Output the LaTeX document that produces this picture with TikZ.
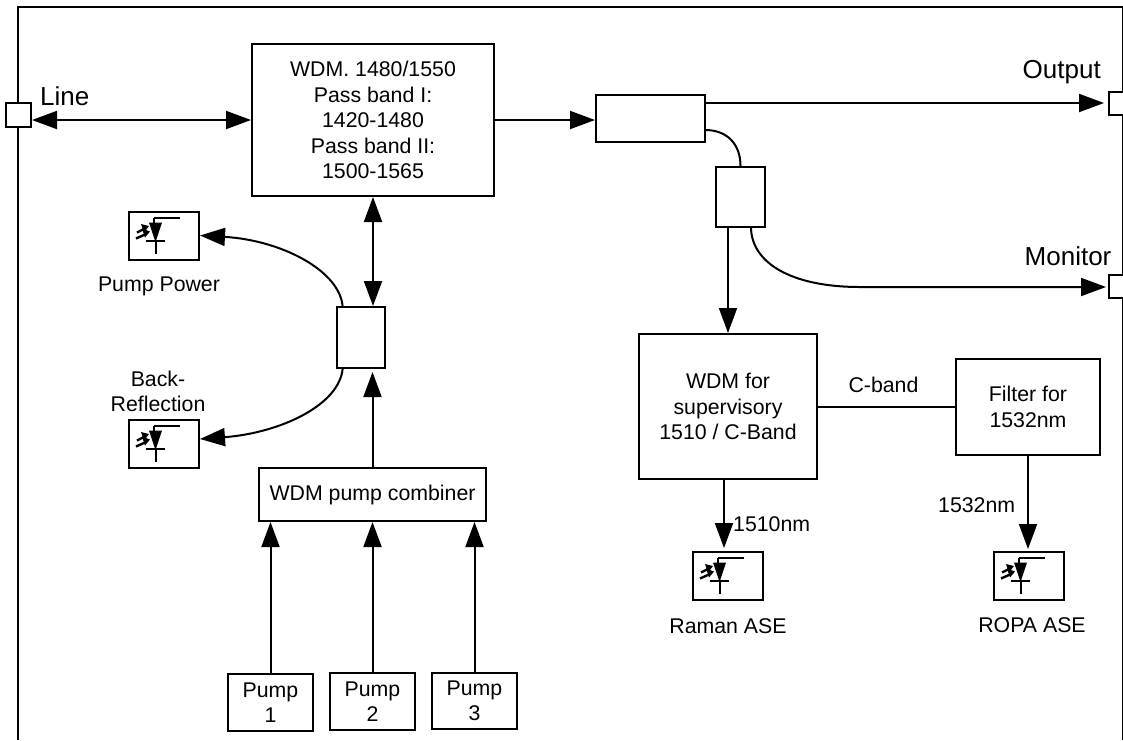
\documentclass[tikz,border=0pt]{standalone}
\usepackage{fontspec}
\setmainfont{Liberation Sans}
\usetikzlibrary{arrows.meta,positioning,calc}
\tikzset{
  box/.style={draw=black,fill=white,line width=2pt,inner sep=0pt,align=center,font=\fontsize{21.3}{25.5}\selectfont},
  lab/.style={inner sep=0pt,align=center,font=\fontsize{21.3}{25.5}\selectfont},
  biglab/.style={inner sep=0pt,font=\fontsize{26}{30}\selectfont},
  wire/.style={draw=black,line width=2pt},
  arr/.style={wire,-{Triangle[length=25pt,width=18pt]}},
  dblarr/.style={wire,{Triangle[length=25pt,width=18pt]}-{Triangle[length=25pt,width=18pt]}},
  pdbox/.style={box,minimum width=70pt,minimum height=48pt},
  pics/diode/.style={code={
    % origin is the top-left corner of the detector box
    \draw[line width=2pt] (26,6.5)--(52,6.5) (26,6.5)--(26,12) (18,30)--(37,30) (27.5,30)--(27.5,43);
    \fill (21,11.5)--(34,11.5)--(27.5,31)--cycle;
    \draw[line width=2.4pt] (8,27.5)--(17,23.5) (9,21.5)--(16,18);
    \fill (22,20.5)--(14,17.5)--(17,26.5)--cycle (21,15)--(13,13)--(16,21.5)--cycle;
  }}
}
\begin{document}
\begin{tikzpicture}[x=1pt,y=-1pt]
\useasboundingbox (0,0) rectangle (1123,740);
\draw[wire] (18,740)--(18,7)--(1122.5,7)--(1122.5,740);
% ports
\node[box,minimum width=25pt,minimum height=24pt] (portL) at (18.5,115) {};
\node[box,minimum width=40pt,minimum height=23pt] (portO) at (1129,103.5) {};
\node[box,minimum width=40pt,minimum height=23pt] (portM) at (1129,286.5) {};
\node[biglab,anchor=base west] (tL) at (40,105) {Line};
\node[biglab,anchor=base west] (tO) at (1022.5,78) {Output};
\node[biglab,anchor=base west] (tM) at (1024.5,265) {Monitor};
% boxes
\node[box,minimum width=242pt,minimum height=152pt] (main) at (373,120) {WDM. 1480/1550\\Pass band I:\\1420-1480\\Pass band II:\\1500-1565};
\node[box,minimum width=109pt,minimum height=47pt] (spl1) at (650.5,118.5) {};
\node[box,minimum width=49pt,minimum height=60pt] (spl2) at (740.5,197) {};
\node[box,minimum width=48pt,minimum height=61pt] (spl3) at (361,337.5) {};
\node[box,minimum width=178pt,minimum height=145pt] (sup) at (728,406.5) {WDM for\\supervisory\\1510 / C-Band};
\node[box,minimum width=144pt,minimum height=96pt] (flt) at (1028,407) {Filter for\\1532nm};
\node[box,minimum width=227pt,minimum height=53pt] (comb) at (372.5,494.5) {WDM pump combiner};
\node[box,minimum width=85pt,minimum height=57pt] (p1) at (270.5,702.5) {Pump\\1};
\node[box,minimum width=85pt,minimum height=57pt] (p2) at (372.5,701.5) {Pump\\2};
\node[box,minimum width=85pt,minimum height=56pt] (p3) at (474.5,701) {Pump\\3};
% detectors
\node[pdbox,anchor=north west] (dPP) at (128,211) {};
\node[pdbox,anchor=north west] (dBR) at (128,419) {};
\node[pdbox,anchor=north west] (dRA) at (692,551) {};
\node[pdbox,anchor=north west] (dRO) at (993,551) {};
\pic at (128,211) {diode};
\pic at (128,419) {diode};
\pic at (692,551) {diode};
\pic at (993,551) {diode};
% labels
\node[lab] (tPP) at (159,286) {Pump Power};
\node[lab] (tBR) at (158,391.5) {Back-\\Reflection};
\node[lab] (tRA) at (728,626) {Raman ASE};
\node[lab] (tRO) at (1032,625) {ROPA ASE};
\node[lab,anchor=base west] (t1510) at (733,531) {1510nm};
\node[lab,anchor=base west] (t1532) at (938,512) {1532nm};
\node[lab] (tC) at (883.5,385) {C-band};
% connector ends
\coordinate (outA) at (705,103);
\coordinate (outB) at (1104,103);
\coordinate (monB) at (1106,287);
\coordinate (s1a) at (705,130);
\coordinate (s2m) at (751,227);
\coordinate (s2d) at (728,227);
\coordinate (s3u) at (342.7,307);
\coordinate (s3d) at (342.7,368);
\coordinate (raA) at (724,479);
\coordinate (raB) at (724,548);
% connectors
\draw[dblarr] (main.west -| portL.east) -- (main.west);
\draw[arr] (main.east) -- (main.east -| spl1.west);
\draw[arr] (outA) -- (outB);
\draw[wire] (s1a) .. controls (728,130) and (740.5,145) .. (spl2.north);
\draw[arr] (s2d) -- (s2d |- sup.north);
\draw[arr] (s2m) .. controls (751,262) and (790,287) .. (860,287) -- (monB);
\draw[wire] (sup.east) -- (sup.east -| flt.west);
\draw[arr] (raA) -- (raB);
\draw[arr,shorten >=2pt] (flt.south) -- (flt.south |- dRO.north);
\draw[dblarr] (main.south) -- (main.south |- spl3.north);
\draw[arr] (s3u) .. controls (340,270) and (280,240) .. (dPP.east |- 0,235.5);
\draw[arr] (s3d) .. controls (340,405) and (280,433) .. (dBR.east |- 0,439);
\draw[arr,shorten >=3pt] (comb.north) -- (comb.north |- spl3.south);
\draw[arr] (p1.north) -- (p1.north |- comb.south);
\draw[arr] (p2.north) -- (comb.south);
\draw[arr] (p3.north) -- (p3.north |- comb.south);
\end{tikzpicture}
\end{document}
